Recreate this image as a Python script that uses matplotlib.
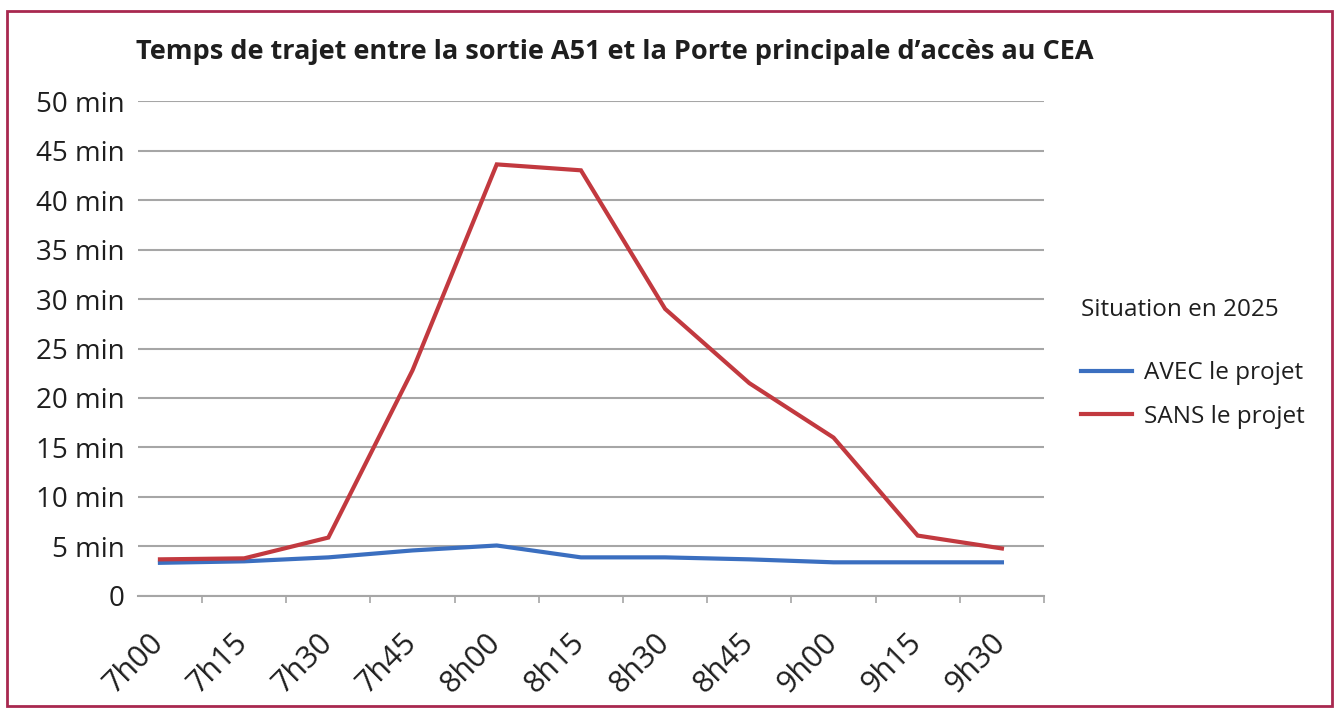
import matplotlib.pyplot as plt
from matplotlib.patches import Rectangle
from matplotlib.transforms import ScaledTranslation

plt.rcParams['font.family'] = ['Open Sans', 'DejaVu Sans']

# Data
heures = ['7h00', '7h15', '7h30', '7h45', '8h00', '8h15', '8h30', '8h45', '9h00', '9h15', '9h30']
avec_projet = [3.35, 3.5, 3.9, 4.6, 5.1, 3.9, 3.9, 3.7, 3.4, 3.4, 3.4]
sans_projet = [3.7, 3.8, 5.9, 22.8, 43.6, 43.0, 29.0, 21.5, 16.0, 6.1, 4.8]
y_ticks = [0, 5, 10, 15, 20, 25, 30, 35, 40, 45, 50]
y_labels = ['0'] + [f'{v} min' for v in y_ticks[1:]]

text_col = '#1e1e1e'
grid_col = '#a6a6a6'

fig = plt.figure(figsize=(13.39, 7.10), dpi=100)
ax = fig.add_axes([0.1031, 0.1606, 0.6766, 0.6971])

x = list(range(len(heures)))
ax.plot(x, avec_projet, color='#3b6fc0', lw=3, label='AVEC le projet', solid_joinstyle='miter')
ax.plot(x, sans_projet, color='#c2393f', lw=3, label='SANS le projet', solid_joinstyle='miter')

ax.set_xlim(-0.26, 10.5)
ax.set_ylim(0, 50)
ax.set_yticks(y_ticks)
ax.set_yticklabels(y_labels, fontsize=20, color=text_col)
ax.yaxis.grid(True, color=grid_col, lw=1.5)
ax.set_axisbelow(True)
ax.tick_params(axis='y', length=0, pad=9.5)

ax.set_xticks(x)
ax.set_xticklabels(heures, rotation=45, ha='right', va='top', fontsize=22,
                   color=text_col, rotation_mode='anchor')
ax.set_xticks([i + 0.5 for i in x], minor=True)
ax.tick_params(axis='x', which='major', length=0, pad=9)
ax.tick_params(axis='x', which='minor', length=5, width=1.2, color=grid_col)
# nudge the rotated labels down/left like the original
shift = ScaledTranslation(-8 / 72, -14 / 72, fig.dpi_scale_trans)
for lab in ax.get_xticklabels():
    lab.set_transform(lab.get_transform() + shift)

for s in ['top', 'right', 'left']:
    ax.spines[s].set_visible(False)
ax.spines['bottom'].set_color(grid_col)
ax.spines['bottom'].set_linewidth(1.5)

fig.text(0.459, 0.927, "Temps de trajet entre la sortie A51 et la Porte principale d\u2019accès au CEA",
         ha='center', va='center', fontsize=19.5, fontweight='bold', color=text_col)

leg = fig.legend(loc='upper left', bbox_to_anchor=(0.798, 0.597), frameon=False,
                 title='Situation en 2025', title_fontsize=17.5, fontsize=17.5,
                 alignment='left', handlelength=2.1, handletextpad=0.5,
                 labelspacing=0.8, borderpad=0)
leg.get_title().set_color(text_col)
leg._legend_box.sep = 28
for t in leg.get_texts():
    t.set_color(text_col)

# crimson frame around the figure
fig.patches.append(Rectangle((0.005, 0.006), 0.99, 0.979, transform=fig.transFigure,
                             fill=False, edgecolor='#a8284f', lw=2))

fig.savefig('out.png', dpi=100)
